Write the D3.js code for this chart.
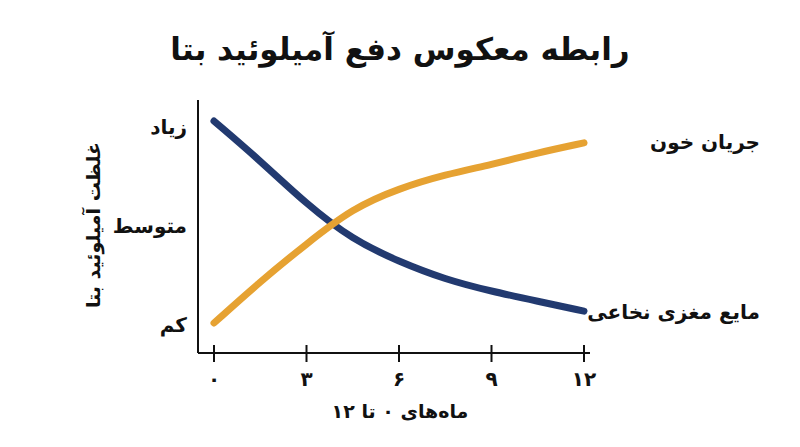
<!DOCTYPE html>
<html><head><meta charset="utf-8">
<script src="https://cdn.jsdelivr.net/npm/d3@7"></script>
<style>body{margin:0;background:#fff}text{font-family:"DejaVu Sans","Noto Sans",sans-serif;font-weight:bold;fill:#111}</style>
</head><body><svg id="c" width="800" height="447"></svg>
<script>
const months=[0,1.5,3,4.5,6,7.5,9,10.5,12];
const csf=[1.03,0.83,0.61,0.43,0.32,0.23,0.17,0.12,0.07];
const blood=[0.01,0.22,0.41,0.59,0.69,0.76,0.81,0.87,0.92];
const xTicks=[0,3,6,9,12];
const xTickLabels=["۰","۳","۶","۹","۱۲"];
const yTicks=[0,0.5,1];
const yTickLabels=["کم","متوسط","زیاد"];
const svg=d3.select("#c");
const x=d3.scaleLinear().domain([0,12]).range([214,584]);
const y=d3.scaleLinear().domain([0,1]).range([325,127]);
svg.append("text").attr("x",400).attr("y",60).attr("text-anchor","middle").attr("font-size",31).text("رابطه معکوس دفع آمیلوئید بتا");
svg.append("line").attr("x1",198).attr("x2",198).attr("y1",100).attr("y2",353).attr("stroke","#111").attr("stroke-width",2);
svg.append("line").attr("x1",198).attr("x2",590).attr("y1",353).attr("y2",353).attr("stroke","#111").attr("stroke-width",2);
xTicks.forEach((t,i)=>{
 svg.append("line").attr("x1",x(t)).attr("x2",x(t)).attr("y1",345).attr("y2",362).attr("stroke","#111").attr("stroke-width",2);
 svg.append("text").attr("x",x(t)).attr("y",386).attr("text-anchor","middle").attr("font-size",20).text(xTickLabels[i]);
});
yTicks.forEach((t,i)=>svg.append("text").attr("x",187).attr("y",y(t)+7).attr("text-anchor","end").attr("font-size",20).text(yTickLabels[i]));
svg.append("text").attr("x",400).attr("y",418).attr("text-anchor","middle").attr("font-size",19).text("ماه‌های ۰ تا ۱۲");
svg.append("text").attr("transform","translate(100,225) rotate(-90)").attr("text-anchor","middle").attr("font-size",19).text("غلظت آمیلوئید بتا");
const line=d3.line().x((d,i)=>x(months[i])).y(d=>y(d)).curve(d3.curveBasis);
svg.append("path").attr("d",line(csf)).attr("fill","none").attr("stroke","#223a70").attr("stroke-width",7).attr("stroke-linecap","round");
svg.append("path").attr("d",line(blood)).attr("fill","none").attr("stroke","#e6a232").attr("stroke-width",7).attr("stroke-linecap","round");
svg.append("text").attr("x",760).attr("y",149).attr("text-anchor","end").attr("font-size",20).text("جریان خون");
svg.append("text").attr("x",760).attr("y",319).attr("text-anchor","end").attr("font-size",20).text("مایع مغزی نخاعی");
</script></body></html>
